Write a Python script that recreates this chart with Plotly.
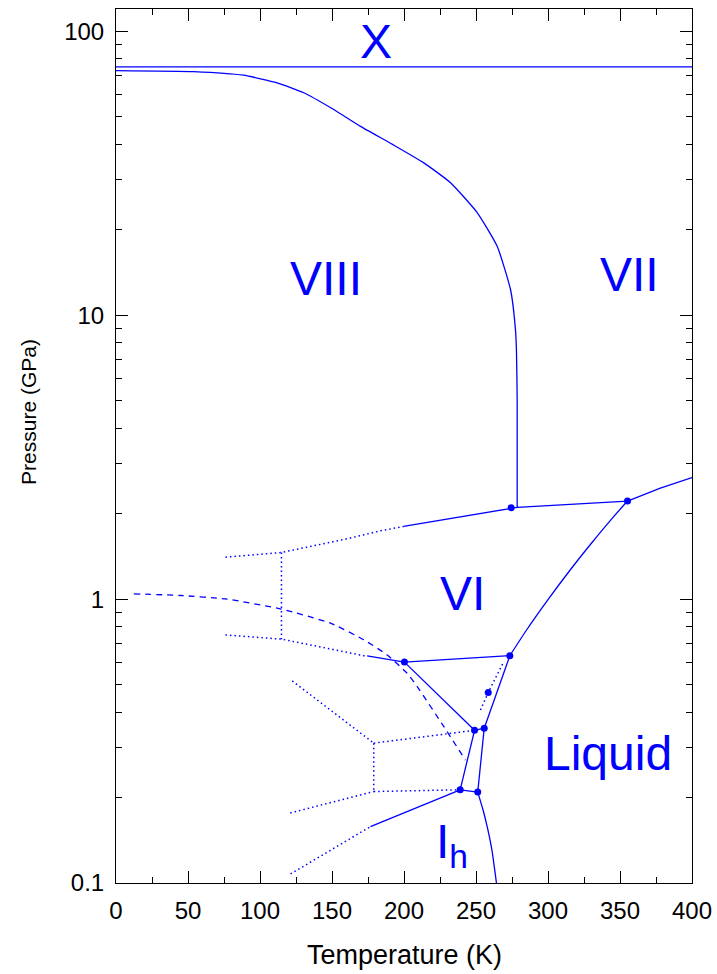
import math
import plotly.graph_objects as go

# ---- phase boundaries of water ice: temperature (K) and pressure (GPa) ----

# Ice X boundary
x_T = [0, 400]
x_P = [75, 75]

# Ice VIII / ice VII transition
viii_vii_T = [0, 54, 88.5, 111.9, 130.4, 150, 169.8, 192, 213.5, 232.3, 250.8, 264.7, 274.0, 277.4, 278.1, 278.6, 278.6]
viii_vii_P = [72.8, 72.2, 70.1, 65.9, 60.8, 53.5, 46.3, 40.0, 34.5, 29.3, 23.0, 17.5, 12.3, 8.9, 7.5, 5.0, 2.106]

# VI / VIII and VI / VII boundary (solid part)
vi_vii_T = [199.7, 274.4, 278.6, 355.2]
vi_vii_P = [1.803, 2.10, 2.106, 2.216]

# VI / VIII boundary extrapolated to low temperature
vi_viii_ext_T = [76, 114.9, 160.6, 183.7, 199.7]
vi_viii_ext_P = [1.406, 1.460, 1.632, 1.741, 1.803]

# ice VII melting curve
vii_melt_T = [355.2, 378, 400]
vii_melt_P = [2.216, 2.46, 2.68]

# ice VI melting curve
vi_melt_T = [273.5, 285, 300, 315, 330, 345, 355.2]
vi_melt_P = [0.632, 0.777, 0.996, 1.259, 1.570, 1.937, 2.216]

# ice V melting, V / VI and II / V
v_melt_T = [255.7, 273.5]
v_melt_P = [0.351, 0.632]
v_vi_T = [200.3, 273.5]
v_vi_P = [0.600, 0.632]
ii_v_T = [200.3, 249.0]
ii_v_P = [0.600, 0.345]

# II / VI boundary: solid part and low-temperature extension
ii_vi_T = [174.4, 200.3]
ii_vi_P = [0.631, 0.600]
ii_vi_ext_T = [76, 114.9, 172.1, 174.4]
ii_vi_ext_P = [0.748, 0.723, 0.632, 0.631]

# link between the two extrapolated lines at 115 K
link_T = [114.9, 114.9]
link_P = [1.460, 0.723]

# ice III region
iii_v_T = [249.0, 255.7]
iii_v_P = [0.345, 0.351]
ii_iii_T = [239.0, 249.0]
ii_iii_P = [0.213, 0.345]
iii_melt_T = [251.2, 255.7]
iii_melt_P = [0.209, 0.351]
ih_iii_T = [239.0, 251.2]
ih_iii_P = [0.213, 0.209]

# ice Ih melting curve
ih_melt_T = [251.2, 255, 258, 261, 264.2]
ih_melt_P = [0.209, 0.180, 0.156, 0.131, 0.100]

# Ih / II boundary: solid part and extension
ih_ii_T = [176.7, 200, 220, 239.0]
ih_ii_P = [0.158, 0.1765, 0.1946, 0.213]
ih_ii_ext_T = [121.2, 149, 176.7]
ih_ii_ext_P = [0.1076, 0.1307, 0.158]

# metastable ice III extensions
iii_a_T = [122.4, 179]
iii_a_P = [0.515, 0.311]
iii_b_T = [179, 179]
iii_b_P = [0.311, 0.21]
iii_c_T = [179, 249.0]
iii_c_P = [0.311, 0.345]
iii_d_T = [179, 239.0]
iii_d_P = [0.21, 0.213]
iii_e_T = [121, 179]
iii_e_P = [0.1765, 0.21]

# metastable ice IV line
iv_T = [253.1, 258.5, 269.3]
iv_P = [0.407, 0.469, 0.603]

# dashed curve
dash_T = [12.4, 44.8, 77.2, 114.9, 149, 172.1, 188.3, 202.2, 209.2, 227.6, 242.7]
dash_P = [1.044, 1.030, 1.0, 0.922, 0.823, 0.719, 0.636, 0.548, 0.492, 0.356, 0.271]

# triple points
tp_T = [274.4, 355.2, 200.3, 273.5, 258.5, 249.0, 255.7, 239.0, 251.2]
tp_P = [2.10, 2.216, 0.600, 0.632, 0.469, 0.345, 0.351, 0.213, 0.209]

# phase labels
phase_names = ["X", "VIII", "VII", "VI", "Liquid", "I<sub>h</sub>"]
phase_T = [180.8, 145.5, 356.4, 240.6, 342, 233]
phase_P = [92.5, 13.46, 13.9, 1.044, 0.287, 0.136]

# x and y ticks
x_major = [0, 50, 100, 150, 200, 250, 300, 350, 400]
x_minor = [25, 75, 125, 175, 225, 275, 325, 375]
y_major = [0.1, 1, 10, 100]
y_labels = ["0.1", "1", "10", "100"]
y_minor = [m * d for d in (0.1, 1, 10) for m in range(2, 10)]

BLUE = "#0000FF"
FONT = "Liberation Sans, Arial, sans-serif"
SOLID = dict(color=BLUE, width=1.3)
DOTTED = dict(color=BLUE, width=1.5, dash="1.5px,3px")
DASHED = dict(color=BLUE, width=1.3, dash="6px,5px")

fig = go.Figure()


def add(T, P, line):
    fig.add_trace(go.Scatter(x=T, y=P, mode="lines", line=line,
                             hoverinfo="skip", showlegend=False))


for T, P in [(x_T, x_P), (vi_vii_T, vi_vii_P), (vii_melt_T, vii_melt_P),
             (v_melt_T, v_melt_P), (v_vi_T, v_vi_P), (ii_v_T, ii_v_P),
             (ii_vi_T, ii_vi_P), (iii_v_T, iii_v_P), (ii_iii_T, ii_iii_P),
             (iii_melt_T, iii_melt_P), (ih_iii_T, ih_iii_P), (ih_ii_T, ih_ii_P)]:
    add(T, P, SOLID)

add(viii_vii_T, viii_vii_P, dict(SOLID, shape="spline", smoothing=0.5))
add(vi_melt_T, vi_melt_P, dict(SOLID, shape="spline", smoothing=0.6))
add(ih_melt_T, ih_melt_P, dict(SOLID, shape="spline", smoothing=0.6))

for T, P in [(vi_viii_ext_T, vi_viii_ext_P), (ii_vi_ext_T, ii_vi_ext_P),
             (link_T, link_P), (ih_ii_ext_T, ih_ii_ext_P), (iii_a_T, iii_a_P),
             (iii_b_T, iii_b_P), (iii_c_T, iii_c_P), (iii_d_T, iii_d_P),
             (iii_e_T, iii_e_P), (iv_T, iv_P)]:
    add(T, P, DOTTED)

add(dash_T, dash_P, dict(DASHED, shape="spline", smoothing=0.5))

fig.add_trace(go.Scatter(x=tp_T, y=tp_P, mode="markers",
                         marker=dict(color=BLUE, size=7),
                         hoverinfo="skip", showlegend=False))

# annotations on a log axis take the exponent as their y position
for name, T, P in zip(phase_names, phase_T, phase_P):
    fig.add_annotation(x=T, y=math.log10(P), yref="y", xref="x", text=name,
                       showarrow=False, xanchor="center", yanchor="middle",
                       font=dict(family=FONT, size=48, color=BLUE))

fig.add_annotation(x=-0.152, y=0.5395, xref="paper", yref="paper",
                   text="Pressure (GPa)", textangle=-90, showarrow=False,
                   xanchor="center", yanchor="middle",
                   font=dict(family=FONT, size=21, color="black"))
fig.add_annotation(x=0.5, y=-0.0824, xref="paper", yref="paper",
                   text="Temperature (K)", showarrow=False,
                   xanchor="center", yanchor="middle",
                   font=dict(family=FONT, size=27, color="black"))

axis_common = dict(showline=True, linecolor="black", linewidth=1,
                   mirror="allticks", ticks="inside", ticklen=12,
                   tickwidth=1, tickcolor="black", showgrid=False,
                   zeroline=False, automargin=False,
                   tickfont=dict(family=FONT, size=24, color="black"))

fig.update_xaxes(range=[0, 400], tickvals=x_major,
                 ticktext=[str(v) for v in x_major],
                 minor=dict(tickvals=x_minor, ticks="inside", ticklen=6,
                            tickwidth=1, tickcolor="black", showgrid=False),
                 ticklabelstandoff=6, **axis_common)
fig.update_yaxes(type="log", range=[-1, 2.079], tickvals=y_major,
                 ticktext=y_labels,
                 minor=dict(tickvals=y_minor, ticks="inside", ticklen=6,
                            tickwidth=1, tickcolor="black", showgrid=False),
                 ticklabelstandoff=6, **axis_common)

fig.update_layout(width=717, height=974,
                  margin=dict(l=116, r=25, t=9, b=91),
                  paper_bgcolor="white", plot_bgcolor="white",
                  font=dict(family=FONT, size=22, color="black"))

fig.write_html("out.html")
